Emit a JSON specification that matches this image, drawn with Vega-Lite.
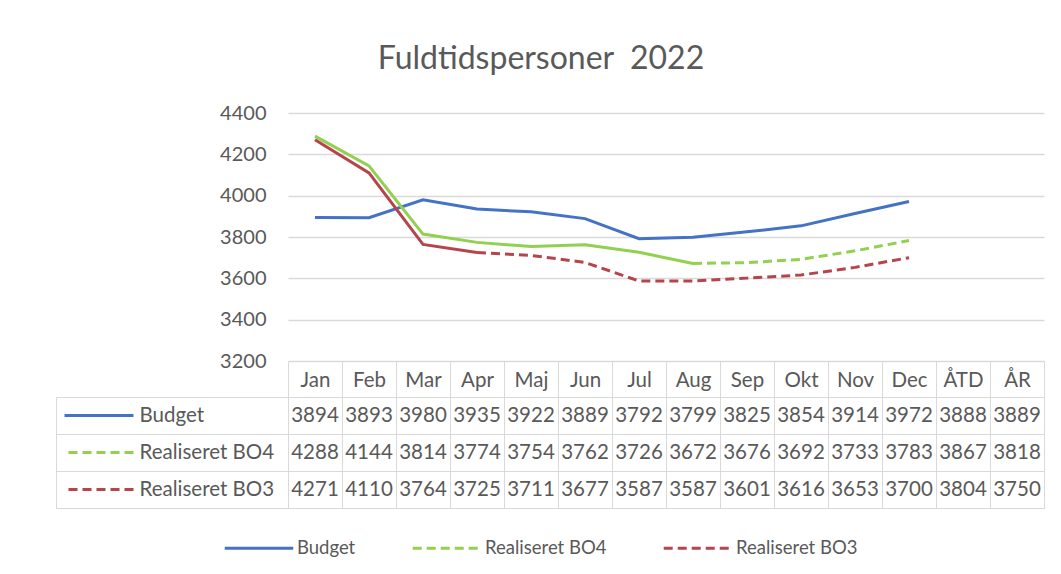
{
  "$schema": "https://vega.github.io/schema/vega-lite/v6.json",
  "background": "white",
  "padding": {"left": 55, "top": 43, "right": 15, "bottom": 5},
  "title": {"text": "Fuldtidspersoner\u00a0 2022", "fontSize": 32, "font": "Lato", "fontWeight": "normal", "color": "#595959", "anchor": "middle", "frame": "bounds", "offset": 27, "dx": -9},
  "datasets": {
    "tbl": [
      {"s": "Budget", "m": "Jan", "v": 3894, "actual": true, "forecast": false},
      {"s": "Budget", "m": "Feb", "v": 3893, "actual": true, "forecast": false},
      {"s": "Budget", "m": "Mar", "v": 3980, "actual": true, "forecast": false},
      {"s": "Budget", "m": "Apr", "v": 3935, "actual": true, "forecast": false},
      {"s": "Budget", "m": "Maj", "v": 3922, "actual": true, "forecast": false},
      {"s": "Budget", "m": "Jun", "v": 3889, "actual": true, "forecast": false},
      {"s": "Budget", "m": "Jul", "v": 3792, "actual": true, "forecast": false},
      {"s": "Budget", "m": "Aug", "v": 3799, "actual": true, "forecast": false},
      {"s": "Budget", "m": "Sep", "v": 3825, "actual": true, "forecast": false},
      {"s": "Budget", "m": "Okt", "v": 3854, "actual": true, "forecast": false},
      {"s": "Budget", "m": "Nov", "v": 3914, "actual": true, "forecast": false},
      {"s": "Budget", "m": "Dec", "v": 3972, "actual": true, "forecast": false},
      {"s": "Budget", "m": "ÅTD", "v": 3888, "actual": false, "forecast": false},
      {"s": "Budget", "m": "ÅR", "v": 3889, "actual": false, "forecast": false},
      {"s": "Realiseret BO4", "m": "Jan", "v": 4288, "actual": true, "forecast": false},
      {"s": "Realiseret BO4", "m": "Feb", "v": 4144, "actual": true, "forecast": false},
      {"s": "Realiseret BO4", "m": "Mar", "v": 3814, "actual": true, "forecast": false},
      {"s": "Realiseret BO4", "m": "Apr", "v": 3774, "actual": true, "forecast": false},
      {"s": "Realiseret BO4", "m": "Maj", "v": 3754, "actual": true, "forecast": false},
      {"s": "Realiseret BO4", "m": "Jun", "v": 3762, "actual": true, "forecast": false},
      {"s": "Realiseret BO4", "m": "Jul", "v": 3726, "actual": true, "forecast": false},
      {"s": "Realiseret BO4", "m": "Aug", "v": 3672, "actual": true, "forecast": true},
      {"s": "Realiseret BO4", "m": "Sep", "v": 3676, "actual": false, "forecast": true},
      {"s": "Realiseret BO4", "m": "Okt", "v": 3692, "actual": false, "forecast": true},
      {"s": "Realiseret BO4", "m": "Nov", "v": 3733, "actual": false, "forecast": true},
      {"s": "Realiseret BO4", "m": "Dec", "v": 3783, "actual": false, "forecast": true},
      {"s": "Realiseret BO4", "m": "ÅTD", "v": 3867, "actual": false, "forecast": false},
      {"s": "Realiseret BO4", "m": "ÅR", "v": 3818, "actual": false, "forecast": false},
      {"s": "Realiseret BO3", "m": "Jan", "v": 4271, "actual": true, "forecast": false},
      {"s": "Realiseret BO3", "m": "Feb", "v": 4110, "actual": true, "forecast": false},
      {"s": "Realiseret BO3", "m": "Mar", "v": 3764, "actual": true, "forecast": false},
      {"s": "Realiseret BO3", "m": "Apr", "v": 3725, "actual": true, "forecast": true},
      {"s": "Realiseret BO3", "m": "Maj", "v": 3711, "actual": false, "forecast": true},
      {"s": "Realiseret BO3", "m": "Jun", "v": 3677, "actual": false, "forecast": true},
      {"s": "Realiseret BO3", "m": "Jul", "v": 3587, "actual": false, "forecast": true},
      {"s": "Realiseret BO3", "m": "Aug", "v": 3587, "actual": false, "forecast": true},
      {"s": "Realiseret BO3", "m": "Sep", "v": 3601, "actual": false, "forecast": true},
      {"s": "Realiseret BO3", "m": "Okt", "v": 3616, "actual": false, "forecast": true},
      {"s": "Realiseret BO3", "m": "Nov", "v": 3653, "actual": false, "forecast": true},
      {"s": "Realiseret BO3", "m": "Dec", "v": 3700, "actual": false, "forecast": true},
      {"s": "Realiseret BO3", "m": "ÅTD", "v": 3804, "actual": false, "forecast": false},
      {"s": "Realiseret BO3", "m": "ÅR", "v": 3750, "actual": false, "forecast": false}
    ]
  },
  "bounds": "flush",
  "spacing": 36,
  "vconcat": [
    {
      "width": 756,
      "height": 248,
      "view": {"stroke": null},
      "data": {"name": "tbl"},
      "encoding": {
        "x": {"field": "m", "type": "nominal", "sort": ["Jan","Feb","Mar","Apr","Maj","Jun","Jul","Aug","Sep","Okt","Nov","Dec","ÅTD","ÅR"],
              "scale": {"domain": ["Jan","Feb","Mar","Apr","Maj","Jun","Jul","Aug","Sep","Okt","Nov","Dec","ÅTD","ÅR"], "paddingInner": 0, "paddingOuter": 0}, "axis": null},
        "y": {"field": "v", "type": "quantitative", "scale": {"domain": [3200, 4400], "nice": false, "zero": false},
              "axis": {"values": [3200, 3400, 3600, 3800, 4000, 4200, 4400], "format": "d", "title": null, "grid": true, "gridColor": "#D9D9D9", "gridWidth": 1.3, "domain": false, "ticks": false, "labelFontSize": 20, "labelFont": "Lato", "labelColor": "#595959", "labelPadding": 22}},
        "color": {"field": "s", "type": "nominal",
                  "scale": {"domain": ["Budget", "Realiseret BO4", "Realiseret BO3"], "range": ["#4472C4", "#92D050", "#B5454B"]},
                  "legend": {"title": null, "orient": "none", "legendX": -65, "legendY": 399, "direction": "horizontal", "symbolType": "stroke", "symbolStrokeWidth": 3, "symbolSize": 4700,
                             "symbolDash": {"expr": "datum.value == 'Budget' ? [] : [9, 5]"},
                             "labelFontSize": 18.5, "labelFont": "Lato", "labelColor": "#595959", "labelOffset": 2, "columnPadding": 50}}
      },
      "layer": [
        {"transform": [{"filter": "datum.actual"}], "mark": {"type": "line", "strokeWidth": 3}},
        {"transform": [{"filter": "datum.forecast"}], "mark": {"type": "line", "strokeWidth": 3, "strokeDash": [9, 5]}}
      ]
    },
    {
      "width": 756,
      "height": 111,
      "view": {"stroke": "#D9D9D9"},
      "data": {"name": "tbl"},
      "layer": [
        {
          "mark": {"type": "text", "fontSize": 20.5, "font": "Lato", "color": "#595959"},
          "encoding": {
            "x": {"field": "m", "type": "nominal", "sort": ["Jan","Feb","Mar","Apr","Maj","Jun","Jul","Aug","Sep","Okt","Nov","Dec","ÅTD","ÅR"],
                  "scale": {"domain": ["Jan","Feb","Mar","Apr","Maj","Jun","Jul","Aug","Sep","Okt","Nov","Dec","ÅTD","ÅR"], "paddingInner": 0, "paddingOuter": 0},
                  "axis": {"orient": "top", "title": null, "tickBand": "extent", "domain": false, "ticks": true, "tickSize": 36, "tickColor": "#D9D9D9", "grid": true, "gridColor": "#D9D9D9", "labelFontSize": 20.5, "labelFont": "Lato", "labelColor": "#595959", "labelBaseline": "middle", "labelPadding": -19, "labelAngle": 0}},
            "y": {"field": "s", "type": "nominal", "sort": ["Budget", "Realiseret BO4", "Realiseret BO3"],
                  "scale": {"domain": ["Budget", "Realiseret BO4", "Realiseret BO3"], "paddingInner": 0, "paddingOuter": 0},
                  "axis": {"orient": "left", "title": null, "tickBand": "extent", "domain": false, "ticks": true, "tickSize": 232, "tickColor": "#D9D9D9", "grid": true, "gridColor": "#D9D9D9", "labelAlign": "left", "labelBaseline": "middle", "labelPadding": -83, "labelFontSize": 20.5, "labelFont": "Lato", "labelColor": "#595959", "labelLimit": 200}},
            "text": {"field": "v", "type": "quantitative", "format": "d"}
          }
        },
        {
          "mark": {"type": "point", "opacity": 0},
          "encoding": {
            "y": {"field": "s", "type": "nominal", "sort": ["Budget", "Realiseret BO4", "Realiseret BO3"],
                  "axis": {"orient": "left", "title": null, "offset": 232, "domain": true, "domainColor": "#D9D9D9", "ticks": false, "grid": false, "labels": false}}
          }
        },
        {
          "mark": {"type": "point", "opacity": 0},
          "encoding": {
            "y": {"field": "s", "type": "nominal", "sort": ["Budget", "Realiseret BO4", "Realiseret BO3"],
                  "axis": {"orient": "left", "title": null, "offset": 155, "domain": false, "grid": false, "labels": false, "ticks": true, "tickSize": 69, "tickWidth": 3,
                           "tickColor": {"expr": "datum.value == 'Budget' ? '#4472C4' : (datum.value == 'Realiseret BO4' ? '#92D050' : '#B5454B')"},
                           "tickDash": {"expr": "datum.value == 'Budget' ? [] : [9, 5]"}}}
          }
        }
      ],
      "resolve": {"axis": {"x": "independent", "y": "independent"}}
    }
  ],
  "config": {"font": "Lato"}
}
